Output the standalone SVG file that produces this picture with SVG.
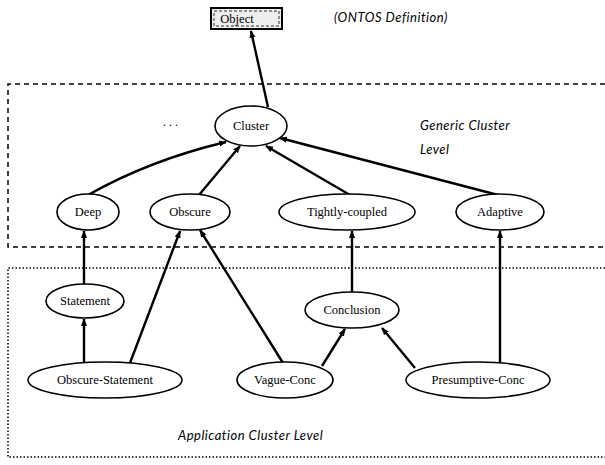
<svg xmlns="http://www.w3.org/2000/svg" width="605" height="465" viewBox="0 0 605 465">
<style>
.n ellipse{fill:#fff;stroke:#000;stroke-width:1.6}
.n text{font-family:"Liberation Serif",serif;font-size:12.5px;fill:#000;text-anchor:middle}
.lbl{font-family:Lato,"Open Sans",sans-serif;font-style:italic;font-size:13px;letter-spacing:0.5px;fill:#000}
.e line,.e path{stroke:#000;stroke-width:2.4;fill:none;marker-end:url(#ah)}
</style>
<defs>
<marker id="ah" viewBox="0 0 10 10" refX="9" refY="5" markerWidth="3.2" markerHeight="3.2" orient="auto" markerUnits="strokeWidth">
<path d="M0,1 L10,5 L0,9 z" fill="#000"/>
</marker>
</defs>
<rect width="605" height="465" fill="#fff"/>
<g id="levels">
<path d="M605,84 H8 V247 H605" fill="none" stroke="#000" stroke-width="1.5" stroke-dasharray="5,4"/>
<path d="M605,268 H8 V457 H605" fill="none" stroke="#000" stroke-width="1.5" stroke-dasharray="1.5,2"/>
</g>
<g id="object">
<rect x="211" y="8" width="71" height="21" fill="#eee" stroke="#000" stroke-width="2"/>
<rect x="214" y="11" width="65" height="15" fill="none" stroke="#000" stroke-width="0.8" stroke-dasharray="3,2"/>
<text x="237" y="23" font-family="Liberation Serif,serif" font-size="12.5" text-anchor="middle">Object</text>
</g>
<text class="lbl" x="334" y="22">(ONTOS Definition)</text>
<text class="lbl" x="420" y="130">Generic Cluster</text>
<text class="lbl" x="420" y="154">Level</text>
<text x="163" y="126" font-family="Liberation Serif,serif" font-size="12">. . .</text>
<text class="lbl" x="178" y="440">Application Cluster Level</text>
<g class="e" id="connectors">
<line x1="268" y1="107" x2="251" y2="31"/>
<path d="M88,195 Q150,160 226,142"/>
<line x1="199" y1="195" x2="240" y2="146"/>
<line x1="350" y1="195" x2="266" y2="146"/>
<line x1="498" y1="195" x2="280" y2="138"/>
<line x1="84" y1="284" x2="84" y2="231"/>
<line x1="130" y1="363" x2="180" y2="231"/>
<line x1="283" y1="363" x2="200" y2="230"/>
<line x1="352" y1="292" x2="352" y2="231"/>
<line x1="500" y1="363" x2="500" y2="231"/>
<line x1="84" y1="362" x2="84" y2="319"/>
<line x1="322" y1="366" x2="345" y2="329"/>
<line x1="415" y1="368" x2="382" y2="328"/>
</g>
<g class="n" id="cluster"><ellipse cx="251" cy="126" rx="36" ry="20"/><text x="251" y="130">Cluster</text></g>
<g class="n" id="deep"><ellipse cx="88" cy="212" rx="31" ry="18"/><text x="88" y="216">Deep</text></g>
<g class="n" id="obscure"><ellipse cx="190" cy="212" rx="40" ry="18"/><text x="190" y="216">Obscure</text></g>
<g class="n" id="tightly"><ellipse cx="347" cy="212" rx="68" ry="18"/><text x="347" y="216">Tightly-coupled</text></g>
<g class="n" id="adaptive"><ellipse cx="500" cy="212" rx="44" ry="18"/><text x="500" y="216">Adaptive</text></g>
<g class="n" id="statement"><ellipse cx="85" cy="301" rx="39" ry="17"/><text x="85" y="305">Statement</text></g>
<g class="n" id="conclusion"><ellipse cx="352" cy="310" rx="47" ry="18"/><text x="352" y="314">Conclusion</text></g>
<g class="n" id="obscure-statement"><ellipse cx="105" cy="380" rx="77" ry="18"/><text x="105" y="384">Obscure-Statement</text></g>
<g class="n" id="vague-conc"><ellipse cx="285" cy="380" rx="48" ry="18"/><text x="285" y="384">Vague-Conc</text></g>
<g class="n" id="presumptive-conc"><ellipse cx="478" cy="380" rx="72" ry="18"/><text x="478" y="384">Presumptive-Conc</text></g>
</svg>
